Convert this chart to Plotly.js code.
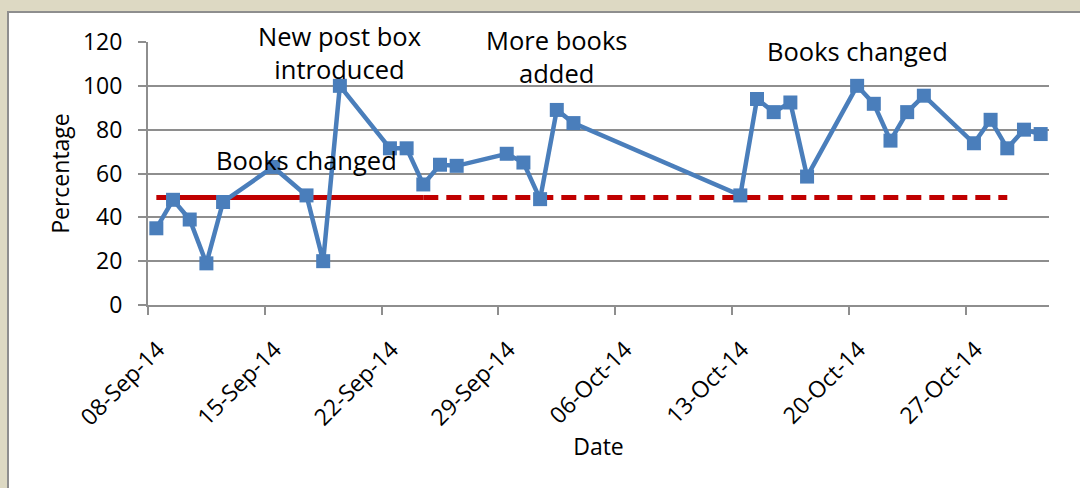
<!DOCTYPE html>
<html>
<head>
<meta charset="utf-8">
<script src="https://cdn.plot.ly/plotly-3.0.1.min.js"></script>
<style>
  html, body { margin: 0; padding: 0; width: 1080px; height: 488px; overflow: hidden; background: #DDD9C3; }
  #panel { position: absolute; left: 7px; top: 11px; width: 1073px; height: 477px; background: #ffffff;
           border-left: 2px solid #8e8e8e; border-top: 2px solid #8e8e8e; }
  #chart { position: absolute; left: 0; top: 0; width: 1080px; height: 488px; }
</style>
</head>
<body>
<div id="panel"></div>
<div id="chart"></div>
<script>
// ---- data ----
const dates = [
  "2014-09-08","2014-09-09","2014-09-10","2014-09-11","2014-09-12",
  "2014-09-15","2014-09-17","2014-09-18","2014-09-19",
  "2014-09-22","2014-09-23","2014-09-24","2014-09-25","2014-09-26",
  "2014-09-29","2014-09-30","2014-10-01","2014-10-02","2014-10-03",
  "2014-10-13","2014-10-14","2014-10-15","2014-10-16","2014-10-17",
  "2014-10-20","2014-10-21","2014-10-22","2014-10-23","2014-10-24",
  "2014-10-27","2014-10-28","2014-10-29","2014-10-30","2014-10-31"
];
const percentages = [
  35, 48, 39, 19, 47,
  63, 50, 20, 100,
  71.5, 71.5, 55, 64, 63.5,
  69, 65, 48.3, 89, 83,
  50, 94, 88, 92.4, 58.6,
  100, 91.8, 75, 88, 95.5,
  73.8, 84.5, 71.5, 80, 78
];
const baselineSolidDates = ["2014-09-08", "2014-09-24"];
const baselineDashedDates = ["2014-09-24", "2014-10-29"];
const baselineValue = 49;

const tickDates = ["2014-09-08","2014-09-15","2014-09-22","2014-09-29","2014-10-06","2014-10-13","2014-10-20","2014-10-27"];
const tickLabels = ["08-Sep-14","15-Sep-14","22-Sep-14","29-Sep-14","06-Oct-14","13-Oct-14","20-Oct-14","27-Oct-14"];

const notes = [
  {date: "2014-09-19", y: 115, text: "New post box<br>introduced"},
  {date: "2014-10-02", y: 113.5, text: "More books<br>added"},
  {date: "2014-09-17", y: 66, text: "Books changed"},
  {date: "2014-10-20", y: 116, text: "Books changed"}
];

const noon = d => d + " 12:00";
const FONT = "Open Sans, Lato, sans-serif";

const traces = [
  {
    x: baselineSolidDates.map(noon), y: baselineSolidDates.map(() => baselineValue),
    mode: "lines", line: {color: "#C00000", width: 5}, hoverinfo: "skip", showlegend: false
  },
  {
    x: baselineDashedDates.map(noon), y: baselineDashedDates.map(() => baselineValue),
    mode: "lines", line: {color: "#C00000", width: 5, dash: "15px,8px"}, hoverinfo: "skip", showlegend: false
  },
  {
    x: dates.map(noon), y: percentages,
    mode: "lines+markers",
    line: {color: "#4A7EBB", width: 4.5},
    marker: {symbol: "square", size: 14, color: "#4A7EBB"},
    showlegend: false
  }
];

const layout = {
  width: 1080, height: 488,
  margin: {l: 148, r: 31, t: 42, b: 183, autoexpand: false},
  paper_bgcolor: "rgba(0,0,0,0)",
  plot_bgcolor: "rgba(0,0,0,0)",
  font: {family: FONT, size: 23, color: "#000000"},
  showlegend: false,
  xaxis: {
    type: "date",
    range: ["2014-09-08", "2014-11-01"],
    tickvals: tickDates, ticktext: tickLabels,
    tickangle: -45,
    ticklabelshift: 10,
    ticklabelstandoff: 12,
    showgrid: false,
    showline: true, linecolor: "#8e8e8e", linewidth: 2,
    ticks: "outside", ticklen: 8, tickwidth: 2, tickcolor: "#8e8e8e",
    tickfont: {family: FONT, size: 23},
    zeroline: false,
    title: {text: "Date", font: {family: FONT, size: 23}, standoff: 8},
    automargin: false
  },
  yaxis: {
    range: [0, 120], dtick: 20, tick0: 0,
    showgrid: true, gridcolor: "#8e8e8e", gridwidth: 2,
    showline: true, linecolor: "#8e8e8e", linewidth: 2,
    ticks: "outside", ticklen: 8, tickwidth: 2, tickcolor: "#8e8e8e",
    ticklabelstandoff: 11,
    tickfont: {family: FONT, size: 23},
    zeroline: false,
    title: {text: "Percentage", font: {family: FONT, size: 23}, standoff: 7},
    automargin: false
  },
  annotations: notes.map(n => ({
    x: noon(n.date), y: n.y, xref: "x", yref: "y",
    text: n.text, showarrow: false,
    xanchor: "center", yanchor: "middle",
    font: {family: FONT, size: 25.5, color: "#000000"}
  }))
};

Plotly.newPlot("chart", traces, layout, {displayModeBar: false, staticPlot: true});
</script>
</body>
</html>
